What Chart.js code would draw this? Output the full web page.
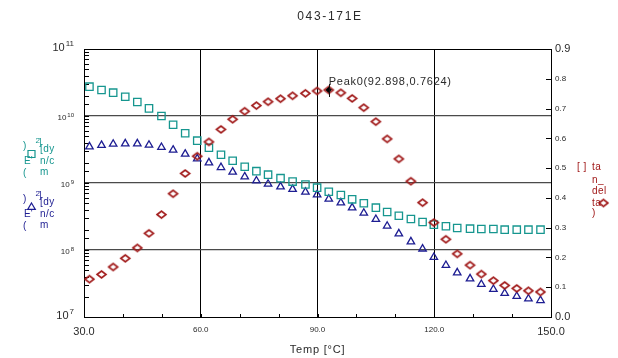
<!DOCTYPE html>
<html lang="en">
<head>
  <meta charset="UTF-8">
  <title>043-171E</title>
  <style>
    html, body { margin: 0; padding: 0; background: #fff; }
    canvas { display: block; }
  </style>
</head>
<body>
  <canvas id="chart" width="618" height="358"></canvas>

  <script src="https://cdn.jsdelivr.net/npm/chart.js"></script>
  <script>
    // Temperature sweep (°C)
    const temps = [31.4, 34.5, 37.5, 40.6, 43.7, 46.7, 49.9, 52.9, 56.0, 59.1,
                   62.1, 65.2, 68.2, 71.3, 74.3, 77.3, 80.5, 83.6, 86.9, 89.9,
                   92.9, 96.0, 98.9, 101.9, 105.0, 107.9, 110.9, 114.0, 117.0, 119.9,
                   123.0, 125.9, 129.2, 132.1, 135.2, 138.1, 141.2, 144.2, 147.3];

    // E' storage modulus [dyn/cm2]
    const storageMod = [2.74e10, 2.44e10, 2.23e10, 1.94e10, 1.62e10, 1.30e10, 1.00e10, 7.41e9, 5.52e9, 4.28e9,
                        3.36e9, 2.64e9, 2.15e9, 1.75e9, 1.50e9, 1.33e9, 1.18e9, 1.05e9, 9.5e8, 8.51e8,
                        7.41e8, 6.62e8, 5.71e8, 4.98e8, 4.28e8, 3.69e8, 3.25e8, 2.90e8, 2.62e8, 2.39e8,
                        2.26e8, 2.13e8, 2.08e8, 2.06e8, 2.06e8, 2.01e8, 2.01e8, 2.01e8, 2.01e8];

    // E'' loss modulus [dyn/cm2]
    const lossMod = [3.48e9, 3.66e9, 3.82e9, 3.86e9, 3.86e9, 3.69e9, 3.41e9, 3.11e9, 2.71e9, 2.31e9,
                     2.01e9, 1.71e9, 1.46e9, 1.24e9, 1.08e9, 9.66e8, 8.81e8, 8.07e8, 7.34e8, 6.69e8,
                     5.77e8, 5.08e8, 4.28e8, 3.56e8, 2.87e8, 2.28e8, 1.75e8, 1.33e8, 1.04e8, 7.78e7,
                     5.91e7, 4.58e7, 3.73e7, 3.08e7, 2.59e7, 2.26e7, 2.04e7, 1.87e7, 1.77e7];

    // tan delta
    const tanDelta = [0.127, 0.143, 0.168, 0.197, 0.232, 0.281, 0.344, 0.414, 0.482, 0.540,
                      0.588, 0.630, 0.664, 0.691, 0.710, 0.723, 0.733, 0.743, 0.751, 0.759,
                      0.7624, 0.753, 0.734, 0.703, 0.656, 0.598, 0.531, 0.456, 0.384, 0.317,
                      0.261, 0.212, 0.174, 0.144, 0.122, 0.106, 0.096, 0.088, 0.084];

    // tan delta peak
    const peakT = 92.898;
    const peakVal = 0.7624;

    // axis labelling
    const tempLabels = [30, 60, 90, 120, 150];
    const tempGrid = [60, 90, 120];
    const decadeExps = [7, 8, 9, 10, 11];

    const FONT = "Arial, 'Liberation Sans', sans-serif";
    const TEAL = '#16968f';
    const NAVY = '#1d1d92';
    const RED = '#a01818';
    const INK = '#2a2a2a';

    const toPoints = vals => temps.map((t, i) => ({ x: t, y: vals[i] }));
    const isDecade = v => Math.abs(Math.log10(v) - Math.round(Math.log10(v))) < 1e-9;

    // slightly flattened open diamond used for tan delta
    function diamondSprite(w, h, color, lw) {
      const c = document.createElement('canvas');
      c.width = w + 4;
      c.height = h + 4;
      const g = c.getContext('2d');
      const cx = c.width / 2, cy = c.height / 2;
      g.strokeStyle = color;
      g.lineWidth = lw;
      g.beginPath();
      g.moveTo(cx - w / 2, cy);
      g.lineTo(cx, cy - h / 2);
      g.lineTo(cx + w / 2, cy);
      g.lineTo(cx, cy + h / 2);
      g.closePath();
      g.stroke();
      return c;
    }
    const redDiamond = diamondSprite(9, 7, RED, 1.6);

    // frame, inward tick marks
    const frame = {
      id: 'frame',
      beforeDatasetsDraw(chart) {
        const { ctx, chartArea: a, scales } = chart;
        ctx.save();
        ctx.strokeStyle = '#000';
        ctx.lineWidth = 1;
        ctx.beginPath();
        ctx.moveTo(a.left, a.top + 0.5);
        ctx.lineTo(a.right, a.top + 0.5);
        scales.y.ticks.forEach(t => {
          const y = Math.round(scales.y.getPixelForValue(t.value)) + 0.5;
          ctx.moveTo(a.left, y);
          ctx.lineTo(a.left + 5, y);
        });
        scales.y1.ticks.forEach(t => {
          const y = Math.round(scales.y1.getPixelForValue(t.value)) + 0.5;
          ctx.moveTo(a.right - 5, y);
          ctx.lineTo(a.right, y);
        });
        scales.x.ticks.forEach(t => {
          const x = Math.round(scales.x.getPixelForValue(t.value)) + 0.5;
          ctx.moveTo(x, a.bottom);
          ctx.lineTo(x, a.bottom - 3);
        });
        ctx.stroke();
        ctx.restore();
      }
    };

    function spacedText(ctx, text, x, y, size, spacing, color, align) {
      ctx.font = size + 'px ' + FONT;
      ctx.letterSpacing = spacing + 'px';
      ctx.fillStyle = color;
      ctx.textAlign = align || 'left';
      ctx.textBaseline = 'middle';
      ctx.fillText(text, x, y);
    }

    // titles, log labels, side legends, peak annotation
    const annotations = {
      id: 'annotations',
      afterDraw(chart) {
        const { ctx, chartArea: a, scales } = chart;
        ctx.save();

        spacedText(ctx, '043-171E', 330, 17, 12, 1.7, INK, 'center');
        spacedText(ctx, 'Temp [°C]', (a.left + a.right) / 2, 350, 11, 0.8, INK, 'center');

        // 10^n labels on the log axis
        decadeExps.forEach(n => {
          const y = scales.y.getPixelForValue(Math.pow(10, n));
          const big = n === decadeExps[0] || n === decadeExps[decadeExps.length - 1];
          const baseSize = big ? 11 : 8;
          const supSize = big ? 8 : 6;
          const right = 74;
          ctx.letterSpacing = '0px';
          ctx.font = supSize + 'px ' + FONT;
          const supW = ctx.measureText(String(n)).width;
          ctx.font = baseSize + 'px ' + FONT;
          const baseW = ctx.measureText('10').width;
          const yb = big ? y - 1 : y + 2;
          spacedText(ctx, '10', right - supW - baseW - 1, yb, baseSize, 0, INK);
          spacedText(ctx, String(n), right - supW, yb - (big ? 4 : 3), supSize, 0, INK);
        });

        // modulus legend blocks
        const leftLegend = (color, dy, marker) => {
          spacedText(ctx, ')', 23, 146 + dy, 10, 0, color);
          spacedText(ctx, "E'", 24, 161 + dy, 10, 0, color);
          spacedText(ctx, '(', 23, 173 + dy, 10, 0, color);
          spacedText(ctx, '2', 35.5, 141 + dy, 8, 0, color);
          spacedText(ctx, ']', 39, 143 + dy, 9, 0, color);
          spacedText(ctx, '[dy', 40, 149 + dy, 10, 0.5, color);
          spacedText(ctx, 'n/c', 40, 161 + dy, 10, 0.5, color);
          spacedText(ctx, 'm', 40, 172 + dy, 10, 0.5, color);
          ctx.strokeStyle = color;
          ctx.lineWidth = 1.2;
          ctx.beginPath();
          marker(31.5, 154 + dy);
          ctx.stroke();
        };
        leftLegend(TEAL, 0, (x, y) => ctx.rect(x - 3.5, y - 3.5, 7, 7));
        leftLegend(NAVY, 53, (x, y) => {
          ctx.moveTo(x, y - 4); ctx.lineTo(x + 3.8, y + 2.4); ctx.lineTo(x - 3.8, y + 2.4); ctx.closePath();
        });

        // tan delta legend block
        spacedText(ctx, '[ ]', 577, 167, 10, 0.5, RED);
        spacedText(ctx, 'ta', 592, 167, 10, 0.5, RED);
        spacedText(ctx, 'n_', 592, 180, 10, 0.5, RED);
        spacedText(ctx, 'del', 592, 191.5, 10, 0.5, RED);
        spacedText(ctx, 'ta', 592, 203, 10, 0.5, RED);
        spacedText(ctx, ')', 592, 213, 10, 0, RED);
        ctx.drawImage(redDiamond, 603.5 - redDiamond.width / 2, 203 - redDiamond.height / 2);

        // peak marker stem and label
        const px = scales.x.getPixelForValue(peakT);
        const py = scales.y1.getPixelForValue(peakVal);
        ctx.strokeStyle = '#111';
        ctx.lineWidth = 1;
        ctx.beginPath();
        ctx.moveTo(Math.round(px) + 0.5, py - 6);
        ctx.lineTo(Math.round(px) + 0.5, py + 7);
        ctx.stroke();
        spacedText(ctx, `Peak0(${peakT},${peakVal})`, px, py - 8.5, 11, 0.7, INK);

        ctx.restore();
      }
    };

    const ctx = document.getElementById('chart').getContext('2d');

    new Chart(ctx, {
      type: 'scatter',
      data: {
        datasets: [
          {
            label: 'Peak0',
            data: [{ x: peakT, y: peakVal }],
            yAxisID: 'y1',
            pointStyle: 'rectRot',
            pointRadius: 2.6,
            borderColor: '#000',
            backgroundColor: '#000',
            borderWidth: 1
          },
          {
            label: 'tan_delta',
            data: toPoints(tanDelta),
            yAxisID: 'y1',
            pointStyle: redDiamond,
            pointRadius: 4.5
          },
          {
            label: "E'",
            data: toPoints(storageMod),
            yAxisID: 'y',
            pointStyle: 'rect',
            pointRadius: 5.2,
            borderColor: TEAL,
            backgroundColor: 'transparent',
            borderWidth: 1.3
          },
          {
            label: "E''",
            data: toPoints(lossMod),
            yAxisID: 'y',
            pointStyle: 'triangle',
            pointRadius: 4.3,
            borderColor: NAVY,
            backgroundColor: 'transparent',
            borderWidth: 1.3
          }
        ]
      },
      options: {
        responsive: false,
        animation: false,
        layout: { padding: { top: 49, left: 0, right: 0, bottom: 0 } },
        plugins: {
          legend: { display: false },
          tooltip: { enabled: false }
        },
        scales: {
          x: {
            type: 'linear',
            min: 30,
            max: 150,
            afterFit: s => { s.height = 41; },
            border: { display: true, color: '#000', width: 1 },
            grid: {
              drawTicks: false,
              color: c => tempGrid.includes(c.tick && c.tick.value) ? '#000' : 'transparent',
              lineWidth: 1
            },
            ticks: {
              stepSize: 10,
              autoSkip: false,
              maxRotation: 0,
              padding: 8,
              color: INK,
              callback: v => tempLabels.includes(v) ? v.toFixed(1) : '',
              font: c => ({ family: FONT, size: (c.tick && (c.tick.value === 30 || c.tick.value === 150)) ? 11 : 8 })
            }
          },
          y: {
            type: 'logarithmic',
            position: 'left',
            min: 1e7,
            max: 1e11,
            afterFit: s => { s.width = 84; },
            border: { display: true, color: '#000', width: 1 },
            grid: {
              drawTicks: false,
              color: c => {
                const v = c.tick && c.tick.value;
                return v && isDecade(v) && v > 1e7 && v < 1e11 ? '#4a4a4a' : 'transparent';
              },
              lineWidth: 1.2
            },
            ticks: { display: false }
          },
          y1: {
            type: 'linear',
            position: 'right',
            min: 0,
            max: 0.9,
            afterFit: s => { s.width = 67; },
            border: { display: true, color: '#000', width: 1 },
            grid: { drawOnChartArea: false, drawTicks: false },
            ticks: {
              stepSize: 0.1,
              padding: 4,
              color: INK,
              callback: v => v.toFixed(1),
              font: c => {
                const v = c.tick ? c.tick.value : 0.5;
                const big = Math.abs(v) < 1e-6 || Math.abs(v - 0.9) < 1e-6;
                return { family: FONT, size: big ? 11 : 8 };
              }
            }
          }
        }
      },
      plugins: [frame, annotations]
    });
  </script>
</body>
</html>
